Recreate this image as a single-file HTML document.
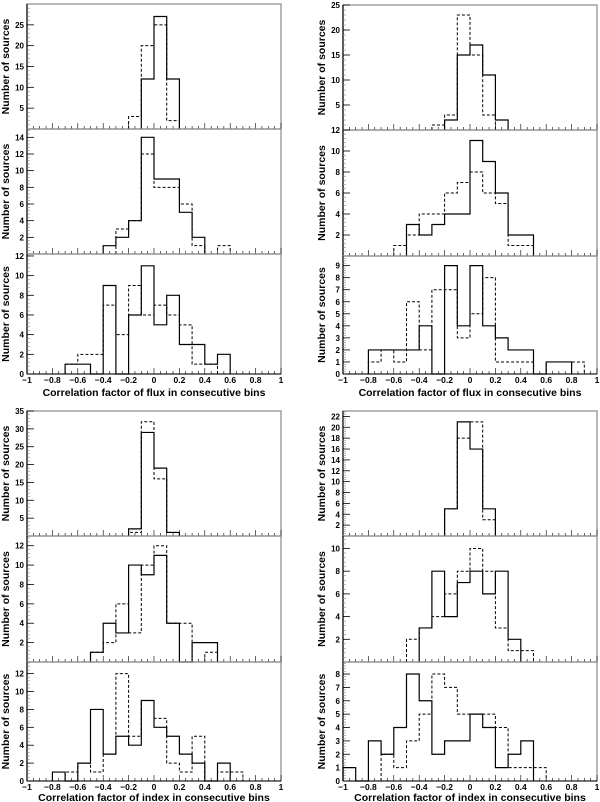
<!DOCTYPE html>
<html><head><meta charset="utf-8"><style>
html,body{margin:0;padding:0;background:#fff;}
svg{display:block;font-family:"Liberation Sans",sans-serif;}
</style></head><body>
<svg id="fig" width="600" height="802" viewBox="0 0 600 802"></svg>
<script>
// bins of width 0.1 from -1 to 1 (20 bins)
const binEdgesMin = -1;
const tl1Solid=[0,0,0,0,0,0,0,0,0,12,27,12,0,0,0,0,0,0,0,0];
const tl1Dash =[0,0,0,0,0,0,0,0,3,20,25,2,0,0,0,0,0,0,0,0];
const tl2Solid=[0,0,0,0,0,0,1,2,4,14,9,9,5,2,0,0,0,0,0,0];
const tl2Dash =[0,0,0,0,0,0,0,3,4,12,8,8,6,1,0,1,0,0,0,0];
const tl3Solid=[0,0,0,1,1,0,9,0,6,11,5,8,3,3,1,2,0,0,0,0];
const tl3Dash =[0,0,0,1,2,2,7,4,9,6,7,6,5,1,1,0,0,0,0,0];
const tr1Solid=[0,0,0,0,0,0,0,0,2,15,17,11,2,0,0,0,0,0,0,0];
const tr1Dash =[0,0,0,0,0,0,0,1,3,23,15,3,0,0,0,0,0,0,0,0];
const tr2Solid=[0,0,0,0,0,3,2,3,4,4,11,9,6,2,2,0,0,0,0,0];
const tr2Dash =[0,0,0,0,1,2,4,4,6,7,8,6,5,1,1,0,0,0,0,0];
const tr3Solid=[0,0,2,2,2,2,4,0,9,4,9,4,3,2,2,0,1,1,0,0];
const tr3Dash =[0,0,1,2,1,6,2,7,7,3,5,8,1,1,1,0,1,1,1,0];
const bl1Solid=[0,0,0,0,0,0,0,0,2,29,19,1,0,0,0,0,0,0,0,0];
const bl1Dash =[0,0,0,0,0,0,0,0,1,32,16,1,0,0,0,0,0,0,0,0];
const bl2Solid=[0,0,0,0,0,1,4,3,10,9,11,4,0,2,2,0,0,0,0,0];
const bl2Dash =[0,0,0,0,0,1,2,6,3,10,12,4,4,0,1,0,0,0,0,0];
const bl3Solid=[0,0,1,0,2,8,3,5,4,9,6,5,3,2,0,2,0,0,0,0];
const bl3Dash =[0,0,0,1,2,1,3,12,5,9,7,2,1,5,0,1,1,0,0,0];
const br1Solid=[0,0,0,0,0,0,0,0,5,21,16,5,0,0,0,0,0,0,0,0];
const br1Dash =[0,0,0,0,0,0,0,0,5,18,21,3,0,0,0,0,0,0,0,0];
const br2Solid=[0,0,0,0,0,0,3,8,4,7,8,6,8,2,0,0,0,0,0,0];
const br2Dash =[0,0,0,0,0,2,3,4,6,8,10,8,3,1,1,0,0,0,0,0];
const br3Solid=[1,0,3,2,4,8,6,2,3,3,5,4,1,2,3,0,0,0,0,0];
const br3Dash =[0,0,0,2,1,3,5,8,7,5,5,5,4,1,1,1,0,0,0,0];
const xTickLabels=["-1","-0.8","-0.6","-0.4","-0.2","0","0.2","0.4","0.6","0.8","1"];
const yTicksTL1=[5,10,15,20,25], yTicksTL2=[2,4,6,8,10,12,14], yTicksTL3=[0,2,4,6,8,10,12];
const yTicksTR1=[5,10,15,20,25], yTicksTR2=[2,4,6,8,10,12], yTicksTR3=[0,1,2,3,4,5,6,7,8,9];
const yTicksBL1=[5,10,15,20,25,30,35], yTicksBL2=[2,4,6,8,10,12], yTicksBL3=[0,2,4,6,8,10,12];
const yTicksBR1=[2,4,6,8,10,12,14,16,18,20,22], yTicksBR2=[2,4,6,8,10], yTicksBR3=[0,1,2,3,4,5,6,7,8];

const NS="http://www.w3.org/2000/svg";
const svg=document.getElementById('fig');
function mk(tag,attrs,parent){const e=document.createElementNS(NS,tag);for(const k in attrs)e.setAttribute(k,attrs[k]);(parent||svg).appendChild(e);return e;}

const panels=[
 {id:'tl1',x0:27,x1:281,top:4,bot:129,max:30,s:tl1Solid,d:tl1Dash,t:yTicksTL1},
 {id:'tl2',x0:27,x1:281,top:129,bot:254,max:15,s:tl2Solid,d:tl2Dash,t:yTicksTL2},
 {id:'tl3',x0:27,x1:281,top:254,bot:374,max:12.2,s:tl3Solid,d:tl3Dash,t:yTicksTL3,xl:"Correlation factor of flux in consecutive bins",ly:383,ty:396},
 {id:'tr1',x0:343,x1:597,top:5,bot:130,max:25,s:tr1Solid,d:tr1Dash,t:yTicksTR1},
 {id:'tr2',x0:343,x1:597,top:130,bot:256,max:12,s:tr2Solid,d:tr2Dash,t:yTicksTR2},
 {id:'tr3',x0:343,x1:597,top:256,bot:374,max:9.8,s:tr3Solid,d:tr3Dash,t:yTicksTR3,xl:"Correlation factor of flux in consecutive bins",ly:383,ty:396},
 {id:'bl1',x0:27,x1:281,top:411,bot:536,max:35,s:bl1Solid,d:bl1Dash,t:yTicksBL1},
 {id:'bl2',x0:27,x1:281,top:536,bot:662,max:13,s:bl2Solid,d:bl2Dash,t:yTicksBL2},
 {id:'bl3',x0:27,x1:281,top:662,bot:781,max:13.3,s:bl3Solid,d:bl3Dash,t:yTicksBL3,xl:"Correlation factor of index in consecutive bins",ly:790,ty:801},
 {id:'br1',x0:343,x1:597,top:411,bot:536,max:23,s:br1Solid,d:br1Dash,t:yTicksBR1},
 {id:'br2',x0:343,x1:597,top:536,bot:662,max:11.1,s:br2Solid,d:br2Dash,t:yTicksBR2},
 {id:'br3',x0:343,x1:597,top:662,bot:781,max:8.9,s:br3Solid,d:br3Dash,t:yTicksBR3,xl:"Correlation factor of index in consecutive bins",ly:790,ty:801},
];

function stepPath(vals,xs,ys){
 let first=vals.findIndex(v=>v>0), last=vals.length-1-[...vals].reverse().findIndex(v=>v>0);
 if(first<0) return '';
 let p=`M${xs(first)},${ys(0)}`;
 for(let i=first;i<=last;i++){p+=` L${xs(i)},${ys(vals[i])} L${xs(i+1)},${ys(vals[i])}`;}
 p+=` L${xs(last+1)},${ys(0)}`;
 return p;
}

panels.forEach(P=>{
 const g=mk('g',{});
 
 
 const xv=v=>P.x0+(v+1)/2*(P.x1-P.x0);
 const xs=i=>xv(binEdgesMin+i*0.1);
 const ys=v=>P.bot-v/P.max*(P.bot-P.top);
 const fr=mk('rect',{x:P.x0,y:P.top,width:P.x1-P.x0,height:P.bot-P.top,fill:'none',stroke:'#888','stroke-width':1.2},g);
 
 
 mk('line',{x1:P.x0,y1:P.top,x2:P.x0,y2:P.bot,stroke:'#000','stroke-width':1.2},g);
 mk('line',{x1:P.x0,y1:P.bot,x2:P.x1,y2:P.bot,stroke:'#000','stroke-width':1},g);
 // x minor ticks
 for(let k=0;k<=40;k++){const v=-1+k*0.05;const L=(k%4===0)?6:3;
  mk('line',{x1:xv(v),y1:P.bot,x2:xv(v),y2:P.bot-L,stroke:'#000','stroke-width':0.6},g);}
 // y ticks
 const step=P.t.length>1?P.t[1]-P.t[0]:1;
 for(let v=0;v<=P.max+1e-6;v+=step/5){mk('line',{x1:P.x0,y1:ys(v),x2:P.x0+3,y2:ys(v),stroke:'#888','stroke-width':0.6},g);}
 P.t.forEach(v=>{
  mk('line',{x1:P.x0,y1:ys(v),x2:P.x0+7,y2:ys(v),stroke:'#000','stroke-width':0.8},g);
  const tx=mk('text',{x:P.x0-3,y:ys(v)+3,'font-size':8,'font-weight':'bold','text-anchor':'end'},g);
  tx.textContent=v;
  
  
 });
 const yl=mk('text',{x:0,y:0,'font-size':10.5,'font-weight':'bold','text-anchor':'middle',transform:`translate(${P.x0-18},${(P.top+P.bot)/2}) rotate(-90)`},g);
 yl.textContent='Number of sources';
 
 
 const ds=mk('path',{d:stepPath(P.d,xs,ys),fill:'none',stroke:'#000','stroke-width':1,'stroke-dasharray':'3,2'},g);
 
 
 const so=mk('path',{d:stepPath(P.s,xs,ys),fill:'none',stroke:'#000','stroke-width':1.2},g);
 
 
 if(P.xl){
  xTickLabels.forEach((lab,k)=>{
   const t=mk('text',{x:xv(-1+k*0.2),y:P.ly,'font-size':8.5,'font-weight':'bold','text-anchor':'middle'},g);
   t.textContent=lab.replace('-','\u2212');
   
   
  });
  const xt=mk('text',{x:(P.x0+P.x1)/2,y:P.ty,'font-size':10.5,'font-weight':'bold','text-anchor':'middle'},g);
  xt.textContent=P.xl;
  
  
 }
});
</script>
</body></html>
